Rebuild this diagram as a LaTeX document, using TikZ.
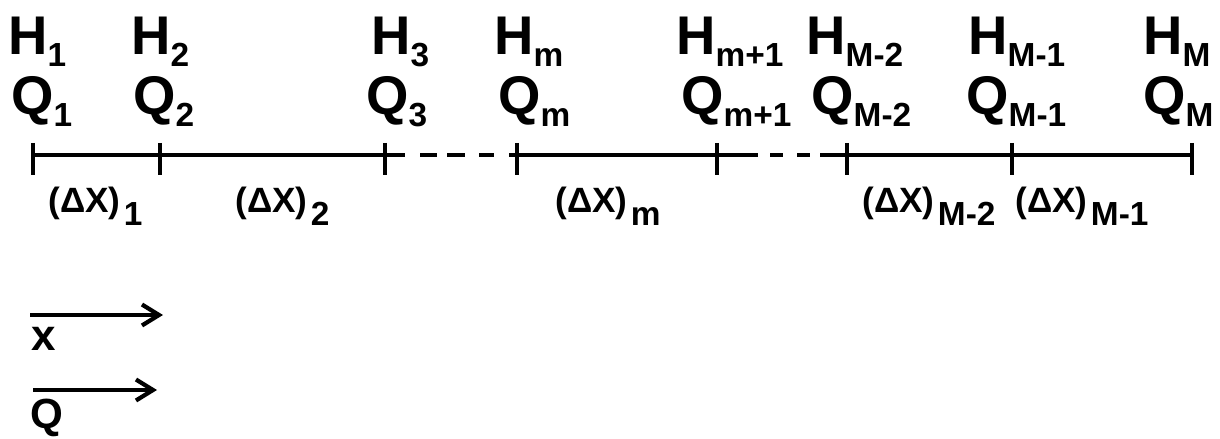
\documentclass[tikz,border=0pt]{standalone}
\usepackage{fontspec}
\setmainfont{Liberation Sans}
\usetikzlibrary{arrows.meta}
\newcommand{\lowix}[1]{\raisebox{-0.24cm}{\fontsize{19}{19}\selectfont #1}}
\newcommand{\dxsub}[1]{\hspace{2pt}\raisebox{-0.26cm}{\fontsize{19}{19}\selectfont #1}}

\begin{document}
\begin{tikzpicture}[>={Straight Barb[length=0.34cm,width=0.42cm]},
  axis/.style={line width=2.6pt},
  tick/.style={line width=2.4pt},
  lbl/.style={anchor=base west,inner sep=0pt,font=\fontsize{31}{36}\selectfont\bfseries},
  dx/.style={anchor=base west,inner sep=0pt,font=\fontsize{20}{22}\selectfont\bfseries},
  dir/.style={->,line width=2.4pt}]
\useasboundingbox (0,0) rectangle (24.4,-8.78);
% grid points along the channel
\coordinate (t1) at (0.66,-3.1);
\coordinate (t2) at (3.2,-3.1);
\coordinate (t3) at (7.7,-3.1);
\coordinate (t4) at (10.34,-3.1);
\coordinate (t5) at (14.34,-3.1);
\coordinate (t6) at (16.94,-3.1);
\coordinate (t7) at (20.24,-3.1);
\coordinate (t8) at (23.84,-3.1);
\draw[axis] (t1) -- (t3);
\draw[axis,dash pattern=on 0.4cm off 0.3cm on 0.34cm off 0.2cm on 0.36cm off 0.28cm on 0.3cm off 0.3cm] (t3) -- (t4);
\draw[axis] (t4) -- (t5);
\draw[axis,dash pattern=on 0.82cm off 0.24cm on 0.26cm off 0.28cm on 0.26cm off 0.2cm] (t5) -- (t6);
\draw[axis] (t6) -- (t8);
\foreach \t in {t1,t2,t3,t4,t5,t6,t7,t8}
  \draw[tick] ([yshift=0.24cm]\t) -- ([yshift=-0.4cm]\t);
% H and Q labels
\node[lbl] (h1) at (0.16,-1.1) {H\lowix{1}};
\node[lbl] (h2) at (2.62,-1.1) {H\lowix{2}};
\node[lbl] (h3) at (7.42,-1.1) {H\lowix{3}};
\node[lbl] (hm) at (9.88,-1.1) {H\lowix{m}};
\node[lbl] (hm1) at (13.52,-1.1) {H\lowix{m+1}};
\node[lbl] (hM2) at (16.12,-1.1) {H\lowix{M-2}};
\node[lbl] (hM1) at (19.36,-1.1) {H\lowix{M-1}};
\node[lbl] (hM) at (22.86,-1.1) {H\lowix{M}};
\node[lbl] (q1) at (0.22,-2.3) {Q\lowix{1}};
\node[lbl] (q2) at (2.66,-2.3) {Q\lowix{2}};
\node[lbl] (q3) at (7.32,-2.3) {Q\lowix{3}};
\node[lbl] (qm) at (9.96,-2.3) {Q\lowix{m}};
\node[lbl] (qm1) at (13.62,-2.3) {Q\lowix{m+1}};
\node[lbl] (qM2) at (16.22,-2.3) {Q\lowix{M-2}};
\node[lbl] (qM1) at (19.32,-2.3) {Q\lowix{M-1}};
\node[lbl] (qM) at (22.86,-2.3) {Q\lowix{M}};
% reach lengths
\node[dx] (d1) at (0.96,-4.24) {(ΔX)\dxsub{1}};
\node[dx] (d2) at (4.7,-4.24) {(ΔX)\dxsub{2}};
\node[dx] (dm) at (11.1,-4.24) {(ΔX)\dxsub{m}};
\node[dx] (dM2) at (17.24,-4.24) {(ΔX)\dxsub{M-2}};
\node[dx] (dM1) at (20.3,-4.24) {(ΔX)\dxsub{M-1}};
% positive directions
\coordinate (xa) at (0.6,-6.3);
\coordinate (xb) at (3.26,-6.3);
\coordinate (qa) at (0.66,-7.8);
\coordinate (qb) at (3.14,-7.8);
\draw[dir] (xa) -- (xb);
\draw[dir] (qa) -- (qb);
\node[anchor=base west,inner sep=0pt,font=\fontsize{25}{28}\selectfont\bfseries] (xl) at (0.62,-7.0) {x};
\node[anchor=base west,inner sep=0pt,font=\fontsize{24}{28}\selectfont\bfseries] (ql) at (0.6,-8.56) {Q};
\end{tikzpicture}
\end{document}
